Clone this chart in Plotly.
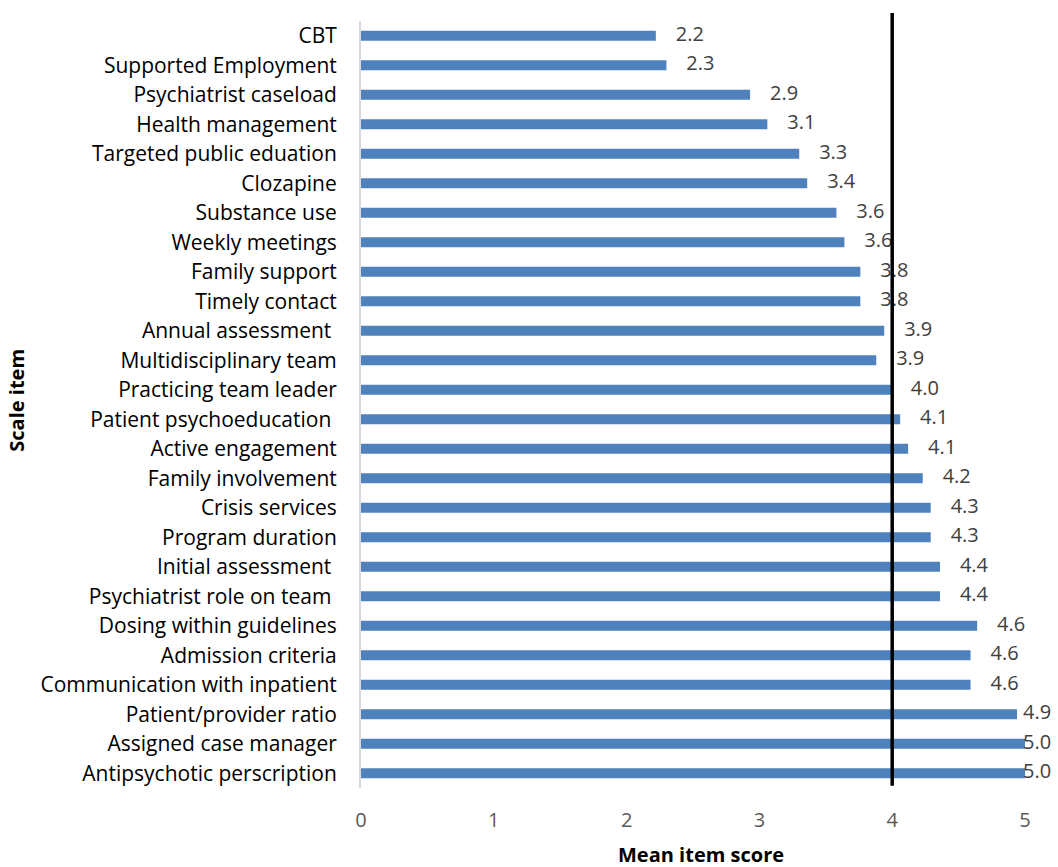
import plotly.graph_objects as go

# Scale items, listed top to bottom
items = [
    "CBT",
    "Supported Employment",
    "Psychiatrist caseload",
    "Health management",
    "Targeted public eduation",
    "Clozapine",
    "Substance use",
    "Weekly meetings",
    "Family support",
    "Timely contact",
    "Annual assessment\u00a0",
    "Multidisciplinary team",
    "Practicing team leader",
    "Patient psychoeducation\u00a0",
    "Active engagement",
    "Family involvement",
    "Crisis services",
    "Program duration",
    "Initial assessment\u00a0",
    "Psychiatrist role on team\u00a0",
    "Dosing within guidelines",
    "Admission criteria",
    "Communication with inpatient",
    "Patient/provider ratio",
    "Assigned case manager",
    "Antipsychotic perscription",
]

# Mean item score per scale item
scores = [
    2.22, 2.30, 2.93, 3.06, 3.30, 3.36, 3.58, 3.64, 3.76, 3.76,
    3.94, 3.88, 3.99, 4.06, 4.12, 4.23, 4.29, 4.29, 4.36, 4.36,
    4.64, 4.59, 4.59, 4.94, 5.00, 5.00,
]

x_ticks = [0, 1, 2, 3, 4, 5]
threshold = 4.0

FONT = "Open Sans"
BLUE = "#4F81BD"

fig = go.Figure()

fig.add_trace(go.Bar(
    y=items,
    x=scores,
    orientation="h",
    marker=dict(color=BLUE, line=dict(width=0)),
    hoverinfo="x+y",
))

# Value labels sit just past each bar end, kept inside the right edge
label_x = [min(v + 0.15, 4.985) for v in scores]
fig.add_trace(go.Scatter(
    y=items,
    x=label_x,
    mode="text",
    text=[f"{v:.1f}" for v in scores],
    textposition="middle right",
    textfont=dict(family=FONT, size=20, color="#404040"),
    cliponaxis=False,
    hoverinfo="skip",
    showlegend=False,
))

# Reference line at a mean score of 4
fig.add_shape(
    type="line",
    xref="x", yref="paper",
    x0=threshold, x1=threshold,
    y0=0.003, y1=1.0105,
    line=dict(color="black", width=3.5),
    layer="above",
)

fig.update_layout(
    width=1058,
    height=867,
    margin=dict(l=361, r=33, t=21, b=79),
    paper_bgcolor="white",
    plot_bgcolor="white",
    showlegend=False,
    bargap=0.66,
    font=dict(family=FONT, color="#000000"),
    xaxis=dict(
        range=[0, 5],
        tickvals=x_ticks,
        showgrid=False,
        zeroline=False,
        showline=False,
        ticks="",
        ticklabelstandoff=18,
        tickfont=dict(family=FONT, size=20, color="#595959"),
    ),
    yaxis=dict(
        categoryorder="array",
        categoryarray=items,
        range=[len(items) - 0.5, -0.5],
        autorange=False,
        showgrid=False,
        zeroline=False,
        showline=True,
        linecolor="#D9D9D9",
        linewidth=2,
        ticks="",
        ticklabelstandoff=18,
        tickfont=dict(family=FONT, size=21, color="#000000"),
    ),
    annotations=[
        dict(
            text="<b>Mean item score</b>",
            xref="paper", yref="paper",
            x=0.5115, y=-0.087,
            xanchor="center", yanchor="middle",
            showarrow=False,
            font=dict(family=FONT, size=20, color="#000000"),
        ),
        dict(
            text="<b>Scale item</b>",
            xref="paper", yref="paper",
            x=-0.518, y=0.505,
            xanchor="center", yanchor="middle",
            textangle=-90,
            showarrow=False,
            font=dict(family=FONT, size=20, color="#000000"),
        ),
    ],
)

fig.write_html("out.html")
